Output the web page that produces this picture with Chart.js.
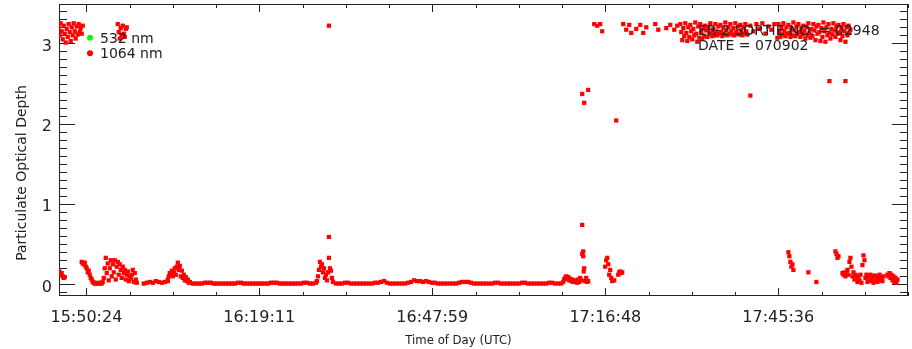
<!DOCTYPE html>
<html>
<head>
<meta charset="utf-8">
<script src="https://cdn.jsdelivr.net/npm/chart.js@4.4.1/dist/chart.umd.min.js"></script>
<style>
  html, body { margin: 0; padding: 0; background: #fff; }
  canvas { display: block; }
</style>
</head>
<body>
<canvas id="chart" width="912" height="349"></canvas>
<script>
// ---- Time axis (UTC) ----
const tickLabels = ['15:50:24', '16:19:11', '16:47:59', '17:16:48', '17:45:36'];
const timeMin = '15:45:50';
const timeMax = '18:07:12';

// ---- Optical depth axis ----
const depthTicks = [0, 1, 2, 3];
const depthMin = -0.145;
const depthMax = 3.49;

// ---- 1064 nm particulate optical depth, recorded in runs ----
// each run: start time (UTC), sample spacing in seconds, values
const runStart = ['15:45:47', '15:45:47', '15:49:37', '15:55:37', '15:59:57', '16:03:57',
                  '16:08:07', '16:28:47', '16:31:57', '17:09:47', '17:16:47', '17:18:57',
                  '17:29:17', '17:40:57', '17:45:37', '17:47:17', '17:55:07', '17:56:17',
                  '18:03:47'];
const runStep  = [10, 10, 10, 10, 30, 10, 30, 10, 30, 10, 10, 10, 10, 30, 10, 10, 10, 10, 10];

const runA0 = [0.17, 0.15, 0.12, 0.14, 0.10, 0.08, 0.09];
const runA = [3.20, 3.10, 3.25, 3.15, 3.05, 3.22, 3.12, 3.01, 3.18, 3.08,
              3.24, 3.14, 3.03, 3.20, 3.10, 3.25, 3.15, 3.06, 3.21, 3.11,
              3.24, 3.14, 3.19, 3.12, 3.22];
const runB = [0.28, 0.26, 0.25, 0.27, 0.22, 0.20, 0.15, 0.17, 0.12, 0.08, 0.06, 0.03, 0.02,
              0.01, 0.01, 0.02, 0.01, 0.01, 0.01, 0.02, 0.01, 0.03,
              0.08, 0.20, 0.33, 0.14, 0.26, 0.05, 0.20, 0.30, 0.10, 0.25, 0.15, 0.30, 0.06,
              0.22, 0.28, 0.12, 0.25, 0.18, 0.08, 0.22, 0.14, 0.18, 0.06, 0.12, 0.16, 0.04,
              0.10, 0.07, 0.12, 0.18, 0.03, 0.14, 0.06, 0.02];
const runC = [3.24, 3.14, 3.06, 3.19, 3.10, 3.22, 3.12, 3.08, 3.18, 3.20];
const runD = [0.01, 0.02, 0.03, 0.02, 0.04, 0.03, 0.02, 0.03, 0.04];
const runE = [0.06, 0.10, 0.14, 0.12, 0.17, 0.10, 0.15, 0.20, 0.12, 0.22, 0.27, 0.18, 0.23,
              0.10, 0.17, 0.08, 0.12, 0.05, 0.09, 0.04, 0.06, 0.02, 0.03];
const runF = [0.01, 0.01, 0.01, 0.01, 0.02, 0.02, 0.02, 0.01, 0.01, 0.01,
              0.01, 0.01, 0.01, 0.01, 0.01, 0.02, 0.02, 0.01, 0.01, 0.01,
              0.01, 0.01, 0.01, 0.01, 0.01, 0.01, 0.02, 0.02, 0.02, 0.01,
              0.01, 0.01, 0.01, 0.01, 0.01, 0.01, 0.01, 0.02, 0.02, 0.01,
              0.01, 0.02];
const runG = [0.04, 0.10, 0.18, 0.28, 0.22, 0.25, 0.15, 0.20, 0.08, 0.12, 0.05, 0.15, 0.59,
              0.20, 0.17, 0.08, 0.03];
const runH = [0.01, 0.01, 0.01, 0.02, 0.02, 0.01, 0.01, 0.01, 0.01, 0.01,
              0.01, 0.01, 0.01, 0.02, 0.02, 0.03, 0.04, 0.02, 0.01, 0.01,
              0.01, 0.01, 0.01, 0.01, 0.02, 0.03, 0.05, 0.04, 0.04, 0.03,
              0.04, 0.03, 0.02, 0.02, 0.01, 0.01, 0.01, 0.01, 0.01, 0.01,
              0.01, 0.02, 0.03, 0.03, 0.03, 0.02, 0.01, 0.01, 0.01, 0.01,
              0.01, 0.01, 0.01, 0.02, 0.02, 0.01, 0.01, 0.01, 0.01, 0.01,
              0.01, 0.01, 0.02, 0.02, 0.01, 0.01, 0.01, 0.01, 0.01, 0.01,
              0.01, 0.02, 0.02, 0.01, 0.01, 0.01];
const runI = [0.03, 0.06, 0.08, 0.10, 0.07, 0.09, 0.05, 0.07, 0.04, 0.06, 0.03, 0.05, 0.03,
              0.04, 0.02, 0.06, 0.03, 0.08, 0.05, 0.38, 0.41, 0.20, 0.04, 0.08, 0.03, 0.04];
const runJ = [0.22, 0.30, 0.33, 0.25, 0.12, 0.18, 0.08, 0.04];
const runK = [0.12, 0.15, 0.16, 0.14, 0.15];
const runP = [3.24, 3.14, 3.04, 3.19, 3.09, 3.25, 3.13, 3.03, 3.20, 3.08,
              3.23, 3.15, 3.05, 3.18, 3.10, 3.26, 3.12, 3.02, 3.21, 3.07,
              3.24, 3.14, 3.06, 3.19, 3.09, 3.22, 3.16, 3.08, 3.20, 3.11,
              3.25, 3.13, 3.09, 3.18, 3.10, 3.24, 3.15, 3.10, 3.21, 3.12,
              3.23, 3.14, 3.09, 3.19, 3.11, 3.26, 3.16, 3.10, 3.20, 3.12,
              3.24, 3.15, 3.11, 3.19, 3.10, 3.25, 3.14, 3.12, 3.21, 3.11,
              3.23, 3.16, 3.10, 3.20, 3.12, 3.24, 3.15, 3.11];
const runP2 = [3.22, 3.15, 3.24, 3.18, 3.25, 3.12, 3.21, 3.17, 3.24, 3.07];
const runQ = [3.24, 3.14, 3.08, 3.19, 3.11, 3.25, 3.15, 3.09, 3.20, 3.12,
              3.23, 3.13, 3.08, 3.18, 3.10, 3.26, 3.16, 3.09, 3.21, 3.12,
              3.24, 3.14, 3.08, 3.19, 3.11, 3.22, 3.15, 3.06, 3.20, 3.10,
              3.25, 3.13, 3.07, 3.18, 3.09, 3.24, 3.16, 3.04, 3.21, 3.12,
              3.23, 3.14, 3.03, 3.19, 3.08, 3.26, 3.15, 3.02, 3.20, 3.10,
              3.24, 3.13, 3.06, 3.18, 3.11, 3.25, 3.16, 3.08, 3.21, 3.12,
              3.23, 3.14, 3.04, 3.19, 3.09, 3.24, 3.15, 3.02, 3.20, 3.10,
              3.22, 3.13, 3.17];
const runL = [0.40, 0.35, 0.28, 0.22, 0.25, 0.18];
const runM = [0.41, 0.38, 0.33, 0.35];
const runN = [0.14, 0.12, 0.15, 0.10, 0.13, 0.18, 0.12, 0.28, 0.33, 0.22,
              0.10, 0.15, 0.06, 0.12, 0.08, 0.03, 0.10, 0.05, 0.12, 0.02,
              0.24, 0.36, 0.30, 0.08, 0.12, 0.03, 0.10, 0.06, 0.12, 0.04,
              0.09, 0.02, 0.11, 0.05, 0.10, 0.03, 0.08, 0.12, 0.05, 0.09,
              0.04, 0.10];
const runO = [0.12, 0.10, 0.14, 0.08, 0.12, 0.05, 0.10, 0.03, 0.08, 0.02, 0.06];
const runValues = [runA0, runA, runB, runC, runD, runE, runF, runG, runH, runI, runJ, runK,
                   runP, runP2, runQ, runL, runM, runN, runO];

// single 1064 nm samples outside the runs
const spotTime  = ['16:30:47', '16:30:47', '17:12:57', '17:13:07', '17:13:12', '17:12:57',
                   '17:13:17', '17:13:57', '17:18:17', '17:18:37', '17:40:57', '17:50:37',
                   '17:51:57', '17:54:07', '17:56:47',
                   '17:14:57', '17:15:27', '17:15:57', '17:16:17', '17:19:47', '17:20:17',
                   '17:20:47', '17:21:07', '17:21:57', '17:22:37', '17:23:07', '17:23:37',
                   '17:25:07', '17:25:37', '17:26:57', '17:27:37', '17:28:17', '17:28:47'];
const spotValue = [0.33, 3.22, 0.74, 0.35, 0.16, 2.37,
                   2.26, 2.42, 0.05, 2.04, 2.35, 0.15,
                   0.03, 2.53, 2.53,
                   3.24, 3.22, 3.24, 3.15, 3.24, 3.17,
                   3.23, 3.13, 3.18, 3.23, 3.13, 3.20,
                   3.24, 3.17, 3.19, 3.23, 3.17, 3.22];

// ---- 532 nm particulate optical depth (lies under the 1064 nm marks) ----
const run532Start = ['15:59:57', '16:08:07'];
const run532Step  = [30, 30];
const run532a = [0.01, 0.02, 0.03, 0.02, 0.04, 0.03, 0.02, 0.03, 0.04];
const run532b = [0.01, 0.01, 0.01, 0.01, 0.02, 0.02, 0.02, 0.01, 0.01, 0.01,
                 0.01, 0.01, 0.01, 0.01, 0.01, 0.02, 0.02, 0.01, 0.01, 0.01,
                 0.01, 0.01, 0.01, 0.01, 0.01, 0.01, 0.02, 0.02, 0.02, 0.01,
                 0.01, 0.01, 0.01, 0.01, 0.01, 0.01, 0.01, 0.02, 0.02, 0.01,
                 0.01, 0.02];
const run532Values = [run532a, run532b];

const sortieText = 'ER-2 SORTIE NO. = 02948';
const dateText = 'DATE = 070902';

// ---- helpers ----
function toSec(hms) {
  const [h, m, s] = hms.split(':').map(Number);
  return h * 3600 + m * 60 + s;
}
function runsToPoints(starts, steps, values) {
  const pts = [];
  values.forEach((vals, i) => {
    const t0 = toSec(starts[i]);
    vals.forEach((v, j) => pts.push({ x: t0 + j * steps[i], y: v }));
  });
  return pts;
}

const points1064 = runsToPoints(runStart, runStep, runValues)
  .concat(spotTime.map((t, i) => ({ x: toSec(t), y: spotValue[i] })));
const points532 = runsToPoints(run532Start, run532Step, run532Values);

const tickSeconds = tickLabels.map(toSec);
const INK = '#222';

// Box frame with inward major/minor ticks on all four sides
const framePlugin = {
  id: 'frame',
  beforeDatasetsDraw(chart) {
    const { ctx, chartArea: a, scales: { x, y } } = chart;
    ctx.save();
    ctx.strokeStyle = INK;
    ctx.lineWidth = 1;
    ctx.strokeRect(a.left + 0.5, a.top + 0.5, a.right - a.left - 1, a.bottom - a.top - 1);
    ctx.beginPath();
    const major = tickSeconds[1] - tickSeconds[0] + 1;   // 28:48 between labels
    const minor = Math.round(major / 4);
    const first = tickSeconds[0] - minor * Math.floor((tickSeconds[0] - x.min) / minor);
    for (let v = first; v <= x.max + 1; v += minor) {
      const px = Math.round(x.getPixelForValue(v)) + 0.5;
      const isMajor = Math.round((v - tickSeconds[0]) / minor) % 4 === 0;
      const len = isMajor ? 8 : 4;
      ctx.moveTo(px, a.bottom); ctx.lineTo(px, a.bottom - len);
      ctx.moveTo(px, a.top); ctx.lineTo(px, a.top + len);
    }
    for (let k = Math.ceil(y.min * 10); k <= Math.floor(y.max * 10); k++) {
      const py = Math.round(y.getPixelForValue(k / 10)) + 0.5;
      const len = k % 10 === 0 ? 16 : 8;
      ctx.moveTo(a.left, py); ctx.lineTo(a.left + len, py);
      ctx.moveTo(a.right, py); ctx.lineTo(a.right - len, py);
    }
    ctx.stroke();
    ctx.restore();
  }
};

// Legend, sortie annotation and axis titles
const textPlugin = {
  id: 'texts',
  afterDatasetsDraw(chart) {
    const { ctx, chartArea: a } = chart;
    ctx.save();
    ctx.fillStyle = INK;
    ctx.font = '14px "DejaVu Sans"';
    ctx.textBaseline = 'alphabetic';
    ctx.textAlign = 'left';
    chart.data.datasets.forEach((ds, i) => {
      const cy = a.top + 33.7 + i * 15.6;
      ctx.beginPath();
      ctx.fillStyle = ds.backgroundColor;
      ctx.arc(a.left + 31, cy, 3, 0, Math.PI * 2);
      ctx.fill();
      ctx.fillStyle = INK;
      ctx.fillText(ds.label, a.left + 41, cy + 5);
    });
    ctx.fillText(sortieText, a.left + 639, a.top + 31);
    ctx.fillText(dateText, a.left + 639, a.top + 46);

    // axis titles
    ctx.textAlign = 'center';
    ctx.font = '13px "DejaVu Sans Condensed", "DejaVu Sans"';
    ctx.fillText('Time of Day (UTC)', 458.5, 343.5);
    ctx.font = '14px "DejaVu Sans"';
    ctx.translate(26, 173);
    ctx.rotate(-Math.PI / 2);
    ctx.fillText('Particulate Optical Depth', 0, 0);
    ctx.restore();
  }
};

new Chart(document.getElementById('chart'), {
  type: 'scatter',
  data: {
    datasets: [
      {
        label: '532 nm',
        data: points532,
        backgroundColor: '#00ff00',
        borderWidth: 0,
        pointStyle: 'rect',
        pointRadius: 2.6,
        order: 1
      },
      {
        label: '1064 nm',
        data: points1064,
        backgroundColor: '#ff0000',
        borderWidth: 0,
        pointStyle: 'rect',
        pointRadius: 3,
        order: 0
      }
    ]
  },
  options: {
    responsive: false,
    animation: false,
    devicePixelRatio: 1,
    events: [],
    layout: { padding: { left: 0, top: 4, right: 4, bottom: 0 } },
    plugins: { legend: { display: false }, tooltip: { enabled: false } },
    scales: {
      x: {
        type: 'linear',
        bounds: 'data',
        min: toSec(timeMin),
        max: toSec(timeMax),
        grid: { display: false, drawTicks: false },
        border: { display: false },
        afterBuildTicks: s => { s.ticks = tickSeconds.map(v => ({ value: v })); },
        afterFit: s => { s.height = 53; s.paddingLeft = 0; s.paddingRight = 0; },
        ticks: {
          autoSkip: false,
          maxRotation: 0,
          padding: 12,
          color: INK,
          font: { family: 'DejaVu Sans', size: 16 },
          callback: (v, i) => tickLabels[i]
        }
      },
      y: {
        min: depthMin,
        max: depthMax,
        grid: { display: false, drawTicks: false },
        border: { display: false },
        afterBuildTicks: s => { s.ticks = depthTicks.map(v => ({ value: v })); },
        afterFit: s => { s.width = 59; s.paddingTop = 0; s.paddingBottom = 0; },
        ticks: {
          padding: 7,
          labelOffset: 3,
          color: INK,
          font: { family: 'DejaVu Sans', size: 16 },
          callback: v => String(v)
        }
      }
    }
  },
  plugins: [framePlugin, textPlugin]
});
</script>
</body>
</html>
